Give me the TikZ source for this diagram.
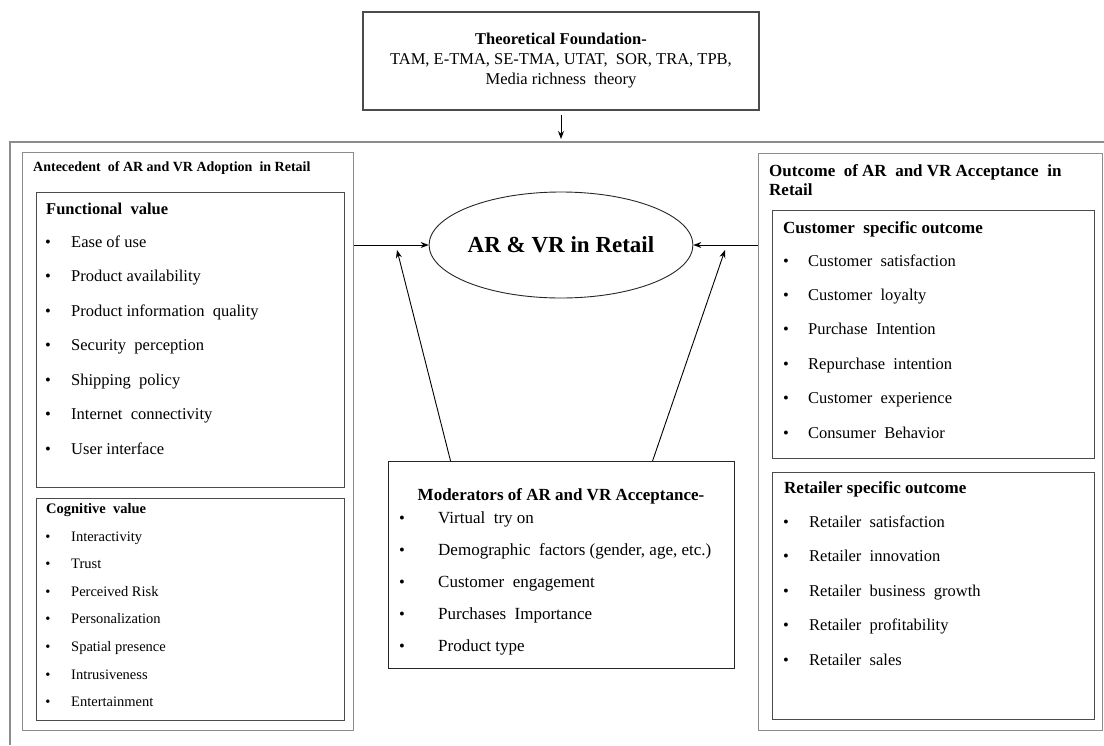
\documentclass[tikz,border=0pt]{standalone}
\usepackage{fontspec}
\setmainfont{Liberation Serif}
\definecolor{framegray}{RGB}{140,140,140}
\definecolor{boxgray}{RGB}{75,75,75}
\usetikzlibrary{arrows.meta,positioning,shapes.geometric}

\begin{document}
\begin{tikzpicture}[x=1pt,y=-1pt,
  outerbox/.style={draw=framegray, line width=1.4pt, anchor=north west, inner sep=0pt},
  panelbox/.style={draw=boxgray, line width=1.1pt, anchor=north west, inner sep=0pt},
  headtext/.style={anchor=base west, inner sep=0pt, font=\fontsize{#1}{#1}\selectfont\bfseries},
  itemtext/.style={anchor=base west, inner sep=0pt, font=\fontsize{#1}{#1}\selectfont},
  bulletmark/.style={anchor=base, inner sep=0pt, font=\fontsize{#1}{#1}\selectfont},
  linkarrow/.style={-{Stealth[length=8pt,width=6pt]}, line width=0.9pt}]
  \useasboundingbox (0,0) rectangle (1104,745);

  % outer frame, cut by the page
  \draw[draw=framegray, line width=1.4pt] (10,745) |- (1104,142);

  % theory box
  \node[panelbox, anchor=center, minimum width=396pt, minimum height=98pt, align=center,
        font=\fontsize{16.5}{20}\selectfont] (found) at (561,61) {
    {\bfseries Theoretical Foundation-}\\
    TAM, E-TMA, SE-TMA, UTAT,\ \ SOR, TRA, TPB,\\
    Media richness\ \ theory};
  \coordinate (frameTop) at (561,139);
  \draw[linkarrow, shorten <=4pt] (found.south) -- (frameTop);

  % centre
  \node[ellipse, draw=black!85, line width=0.9pt, minimum width=218pt, minimum height=106pt,
        inner sep=0pt, font=\fontsize{23}{23}\selectfont\bfseries] (core) at (561,245) {AR \& VR in Retail};

  % antecedents
  \node[outerbox, minimum width=331pt, minimum height=578pt] (ante) at (22,152) {};
  \node[headtext=14] (anteHead) at (33,171) {Antecedent\ \ of AR and VR Adoption\ \ in Retail};

  \node[panelbox, minimum width=308pt, minimum height=295pt] (func) at (36,192) {};
  \node[headtext=16.5] (funcHead) at (46,214) {Functional\ \ value};
  \foreach \t [count=\i from 0] in {Ease of use, Product availability, Product information\ \ quality,
      Security\ \ perception, Shipping\ \ policy, Internet\ \ connectivity, User interface}
  {
    \node[bulletmark=16.5] (fb\i) at (48, 247+34.5*\i) {\textbullet};
    \node[itemtext=16.5] (ft\i) at (71, 247+34.5*\i) {\t};
  }

  \node[panelbox, minimum width=308pt, minimum height=222pt] (cogn) at (36,498) {};
  \node[headtext=14.5] (cognHead) at (46,513) {Cognitive\ \ value};
  \foreach \t [count=\i from 0] in {Interactivity, Trust, Perceived Risk, Personalization,
      Spatial presence, Intrusiveness, Entertainment}
  {
    \node[bulletmark=14.5] (cb\i) at (48, 541+27.6*\i) {\textbullet};
    \node[itemtext=14.5] (ct\i) at (71, 541+27.6*\i) {\t};
  }

  % outcomes
  \node[outerbox, minimum width=344pt, minimum height=577pt] (outc) at (758,153) {};
  \node[headtext=17] (outcHeadA) at (769,176) {Outcome\ \ of AR\ \ and VR Acceptance\ \ in};
  \node[headtext=17] (outcHeadB) at (769,195) {Retail};

  \node[panelbox, minimum width=322pt, minimum height=248pt] (cust) at (772,210) {};
  \node[headtext=17] (custHead) at (783,233) {Customer\ \ specific outcome};
  \foreach \t [count=\i from 0] in {Customer\ \ satisfaction, Customer\ \ loyalty, Purchase\ \ Intention,
      Repurchase\ \ intention, Customer\ \ experience, Consumer\ \ Behavior}
  {
    \node[bulletmark=16.5] (sb\i) at (786, 266+34.4*\i) {\textbullet};
    \node[itemtext=16.5] (st\i) at (808, 266+34.4*\i) {\t};
  }

  \node[panelbox, minimum width=322pt, minimum height=247pt] (retl) at (772,472) {};
  \node[headtext=17] (retlHead) at (784,493) {Retailer specific outcome};
  \foreach \t [count=\i from 0] in {Retailer\ \ satisfaction, Retailer\ \ innovation,
      Retailer\ \ business\ \ growth, Retailer\ \ profitability, Retailer\ \ sales}
  {
    \node[bulletmark=16.5] (rb\i) at (786, 527+34.5*\i) {\textbullet};
    \node[itemtext=16.5] (rt\i) at (809, 527+34.5*\i) {\t};
  }

  % moderators
  \node[panelbox, draw=black!85, minimum width=346pt, minimum height=207pt] (moder) at (388,461) {};
  \node[headtext=17, anchor=base] (moderHead) at (561,500) {Moderators of AR and VR Acceptance-};
  \foreach \t [count=\i from 0] in {Virtual\ \ try on, {Demographic\ \ factors (gender, age, etc.)},
      Customer\ \ engagement, Purchases\ \ Importance, Product type}
  {
    \node[bulletmark=16.5] (mb\i) at (402, 523+32.2*\i) {\textbullet};
    \node[itemtext=17] (mt\i) at (438, 523+32.2*\i) {\t};
  }

  % links
  \coordinate (modL) at (397,250);
  \coordinate (modR) at (725,250);
  \draw[linkarrow] (ante.east |- core.west) -- (core.west);
  \draw[linkarrow] (outc.west |- core.east) -- (core.east);
  \draw[linkarrow] ([xshift=-111pt]moder.north) -- (modL);
  \draw[linkarrow] ([xshift=91pt]moder.north) -- (modR);
\end{tikzpicture}
\end{document}
